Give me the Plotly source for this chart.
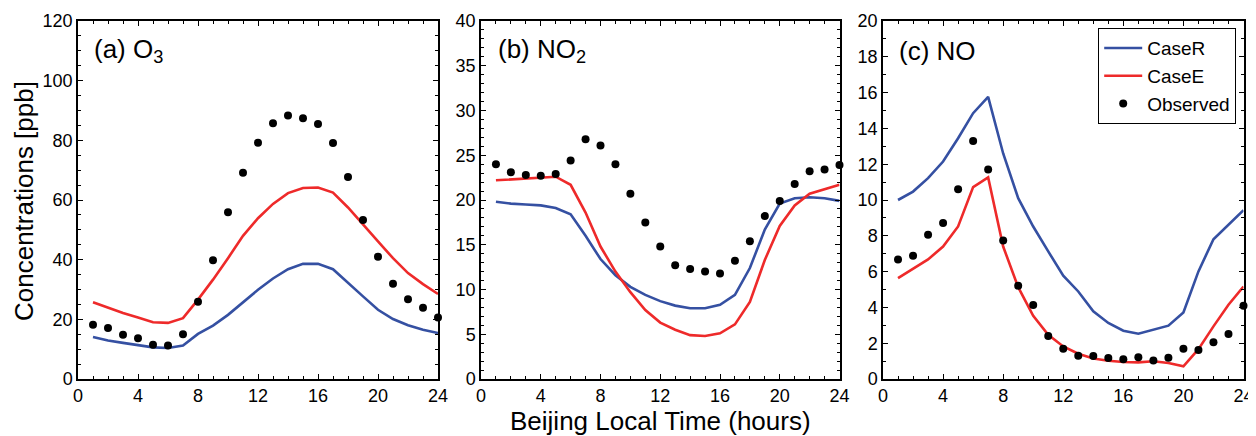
import plotly.graph_objects as go

hours = list(range(1, 25))

o3_obs = [18.2, 17.1, 14.8, 13.7, 11.5, 11.2, 15.0, 25.9, 39.8, 55.9, 69.1, 79.2,
          85.7, 88.3, 87.4, 85.5, 79.1, 67.7, 53.3, 41.0, 31.9, 26.7, 23.9, 20.6]
o3_caseE = [25.7, 23.8, 22.1, 20.6, 19.0, 18.8, 20.4, 26.6, 33.3, 40.5, 48.0, 53.9,
            58.7, 62.3, 64.0, 64.2, 62.5, 57.5, 51.7, 46.1, 40.5, 35.5, 31.8, 28.5]
o3_caseR = [14.1, 12.9, 12.1, 11.3, 10.6, 10.4, 11.2, 15.1, 17.9, 21.5, 25.7, 29.9,
            33.7, 36.8, 38.6, 38.6, 36.8, 32.4, 27.7, 23.2, 20.1, 18.0, 16.5, 15.4]

no2_obs = [24.0, 23.1, 22.8, 22.7, 22.9, 24.4, 26.8, 26.1, 24.0, 20.7, 17.5, 14.8,
           12.7, 12.3, 12.0, 11.8, 13.2, 15.4, 18.2, 19.9, 21.8, 23.2, 23.4, 23.9]
no2_caseE = [22.2, 22.3, 22.4, 22.5, 22.6, 21.7, 18.6, 14.8, 12.0, 9.7, 7.7, 6.3,
             5.5, 4.9, 4.8, 5.1, 6.1, 8.6, 13.3, 17.1, 19.4, 20.7, 21.2, 21.7]
no2_caseR = [19.8, 19.6, 19.5, 19.4, 19.1, 18.4, 16.0, 13.4, 11.6, 10.3, 9.4, 8.7,
             8.2, 7.9, 7.9, 8.3, 9.4, 12.4, 16.7, 19.6, 20.2, 20.3, 20.2, 19.9]

no_obs = [6.68, 6.88, 8.06, 8.71, 10.6, 13.3, 11.7, 7.74, 5.21, 4.13, 2.40, 1.69,
          1.30, 1.28, 1.17, 1.10, 1.21, 1.04, 1.19, 1.69, 1.62, 2.05, 2.51, 4.09]
no_caseE = [5.64, 6.14, 6.68, 7.40, 8.52, 10.72, 11.26, 7.40, 5.13, 3.53, 2.47, 1.82,
            1.41, 1.15, 1.02, 0.95, 0.93, 0.99, 0.89, 0.71, 1.67, 2.94, 4.15, 5.17]
no_caseR = [10.0, 10.47, 11.22, 12.15, 13.45, 14.85, 15.76, 12.6, 10.1, 8.52, 7.13, 5.77,
            4.89, 3.78, 3.13, 2.70, 2.53, 2.75, 2.98, 3.72, 6.01, 7.81, 8.65, 9.43]

panel_labels = ["(a) O<sub>3</sub>", "(b) NO<sub>2</sub>", "(c) NO"]
y_title = "Concentrations [ppb]"
x_title = "Beijing Local Time (hours)"
y_ranges = [[0, 120], [0, 40], [0, 20]]
y_dticks = [20, 5, 2]
y_minor = [5, 1, 1]
x_ticks = [0, 4, 8, 12, 16, 20, 24]

BLUE = "#3550A2"
RED = "#EE2A2A"
FONT = "Liberation Sans, Arial, Helvetica, sans-serif"

# the page body has an 8px margin, so the figure is drawn 8px right and down
OFF = 8
W, H = 1256 - OFF, 436 - OFF


def px_x(v):
    return (v - OFF) / W


def px_y(v):
    return 1 - (v - OFF) / H


x_px = [(78, 438), (481, 839.5), (883, 1243.5)]
y_px = (21, 379)

fig = go.Figure()
data = [(o3_caseR, o3_caseE, o3_obs), (no2_caseR, no2_caseE, no2_obs), (no_caseR, no_caseE, no_obs)]
for i, (r, e, o) in enumerate(data):
    xa = "x" if i == 0 else f"x{i+1}"
    ya = "y" if i == 0 else f"y{i+1}"
    show = (i == 2)
    fig.add_trace(go.Scatter(x=hours, y=r, mode="lines", name="CaseR",
                             line=dict(color=BLUE, width=2.6), xaxis=xa, yaxis=ya, showlegend=show))
    fig.add_trace(go.Scatter(x=hours, y=e, mode="lines", name="CaseE",
                             line=dict(color=RED, width=2.6), xaxis=xa, yaxis=ya, showlegend=show))
    fig.add_trace(go.Scatter(x=hours, y=o, mode="markers", name="Observed",
                             marker=dict(color="black", size=8), xaxis=xa, yaxis=ya, showlegend=show,
                             cliponaxis=False))

layout = dict(
    width=W, height=H,
    template="none",
    margin=dict(l=0, r=0, t=0, b=0, autoexpand=False),
    paper_bgcolor="white", plot_bgcolor="white",
    font=dict(family=FONT, size=18, color="black"),
    showlegend=True,
    legend=dict(x=px_x(1236), y=px_y(28), xanchor="right", yanchor="top",
                bordercolor="black", borderwidth=1.2, bgcolor="white",
                font=dict(size=19, family=FONT, color="black"), tracegroupgap=0,
                itemwidth=38),
)

annotations = []
for i in range(3):
    xk = "xaxis" if i == 0 else f"xaxis{i+1}"
    yk = "yaxis" if i == 0 else f"yaxis{i+1}"
    ya = "y" if i == 0 else f"y{i+1}"
    xa = "x" if i == 0 else f"x{i+1}"
    x0, x1 = x_px[i]
    layout[xk] = dict(
        domain=[px_x(x0), px_x(x1)], anchor=ya, range=[0, 24], automargin=False,
        tickvals=x_ticks, ticks="inside", ticklen=5, tickwidth=1.2, tickcolor="black",
        showline=True, linecolor="black", linewidth=1.5, mirror="allticks",
        showgrid=False, zeroline=False,
        minor=dict(dtick=1, ticks="inside", ticklen=3, tickwidth=1, tickcolor="black", showgrid=False),
        tickfont=dict(size=18, family=FONT, color="black"),
    )
    layout[yk] = dict(
        domain=[px_y(y_px[1]), px_y(y_px[0])], anchor=xa, range=y_ranges[i], automargin=False,
        dtick=y_dticks[i], tick0=0, ticks="inside", ticklen=5, tickwidth=1.2, tickcolor="black",
        showline=True, linecolor="black", linewidth=1.5, mirror="allticks",
        showgrid=False, zeroline=False,
        minor=dict(dtick=y_minor[i], tick0=0, ticks="inside", ticklen=3, tickwidth=1, tickcolor="black",
                   showgrid=False),
        tickfont=dict(size=18, family=FONT, color="black"),
    )
    lx = [92, 496, 897][i]
    annotations.append(dict(text=panel_labels[i], x=px_x(lx), y=px_y(51), xref="paper", yref="paper",
                            xanchor="left", yanchor="middle", showarrow=False,
                            font=dict(size=26, family=FONT, color="black")))

annotations.append(dict(text=y_title, x=px_x(24), y=px_y(201), xref="paper", yref="paper",
                        xanchor="center", yanchor="middle", textangle=-90, showarrow=False,
                        font=dict(size=26, family=FONT, color="black")))
annotations.append(dict(text=x_title, x=px_x(660), y=px_y(421), xref="paper", yref="paper",
                        xanchor="center", yanchor="middle", showarrow=False,
                        font=dict(size=26, family=FONT, color="black")))
layout["annotations"] = annotations

fig.update_layout(**layout)
fig.write_html("out.html")
